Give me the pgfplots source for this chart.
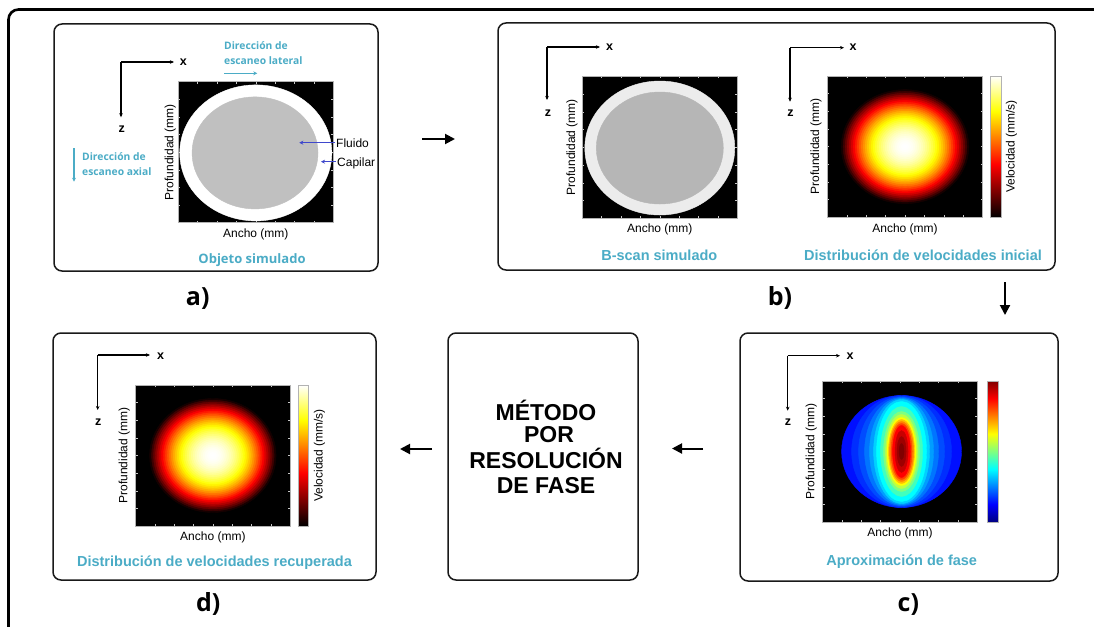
\documentclass[border=0pt]{standalone}
\usepackage{fontspec}
\setmainfont{Liberation Sans}
\newfontfamily\osans{Open Sans}
\usepackage{pgfplots}
\pgfplotsset{compat=1.18}
\usepackage{pgfplotstable}
\usetikzlibrary{arrows.meta}
\definecolor{tealc}{RGB}{75,172,198}
\definecolor{arrblue}{RGB}{63,72,204}
\definecolor{boxc}{RGB}{25,25,25}
\definecolor{fluida}{RGB}{192,192,192}
\definecolor{ringb}{RGB}{236,236,236}
\definecolor{fluidb}{RGB}{182,182,182}
\newcommand\lbl{\fontsize{12}{14}\selectfont}
\newcommand\ttl{\fontsize{14.5}{17}\selectfont\bfseries}
\newcommand\axl{\fontsize{12.5}{14}\selectfont\bfseries}
\newcommand\dirf{\osans\fontsize{10.3}{15}\selectfont\bfseries}
\newcommand\panelf{\osans\fontsize{25}{28}\selectfont\bfseries}
\newcommand\midf{\fontsize{23}{25}\selectfont\bfseries}

% Poiseuille-like velocity profile: r = disc radius (pt), v = normalised velocity
\pgfplotstableread{
x y r v
0 0 57.00 0.0310
0 0 55.22 0.0916
0 0 53.44 0.1501
0 0 51.66 0.2068
0 0 49.88 0.2615
0 0 48.09 0.3142
0 0 46.31 0.3650
0 0 44.53 0.4138
0 0 42.75 0.4607
0 0 40.97 0.5056
0 0 39.19 0.5486
0 0 37.41 0.5896
0 0 35.63 0.6287
0 0 33.84 0.6658
0 0 32.06 0.7009
0 0 30.28 0.7341
0 0 28.50 0.7654
0 0 26.72 0.7947
0 0 24.94 0.8220
0 0 23.16 0.8474
0 0 21.38 0.8709
0 0 19.59 0.8923
0 0 17.81 0.9119
0 0 16.03 0.9294
0 0 14.25 0.9451
0 0 12.47 0.9587
0 0 10.69 0.9705
0 0 8.91 0.9802
0 0 7.13 0.9880
0 0 5.34 0.9939
0 0 3.56 0.9978
0 0 1.78 0.9998
}\hottable

% phase approximation: r = half height (pt), sx = width/height ratio, v = level
\pgfplotstableread{
x y r sx v
0.02 0 56 1.071 0.14
0.02 0 56 0.893 0.17
0.02 0 55 0.782 0.20
0.02 0 54 0.685 0.24
0.02 0 53 0.604 0.28
0.02 0 52 0.538 0.33
0.02 0 50 0.500 0.375
0.02 0 45 0.467 0.44
0.02 0 40 0.450 0.50
0.02 0 37 0.432 0.56
0.02 0 34 0.426 0.625
0.02 0 32 0.406 0.69
0.02 0 30 0.400 0.75
0.02 0 28 0.375 0.81
0.02 0 26 0.346 0.875
0.02 0 21 0.310 0.93
0.02 0 15 0.300 0.97
0.02 0 8 0.3125 1.00
}\jettable

\pgfplotsset{
  img/.style={
    scale only axis, anchor=south west,
    xmin=-1, xmax=1, ymin=-1, ymax=1,
    axis on top,
    axis background/.style={fill=black},
    axis line style={draw=gray!60, line width=0.5pt},
    xtick={-0.75,-0.5,-0.25,0,0.25,0.5,0.75},
    ytick={-0.75,-0.5,-0.25,0,0.25,0.5,0.75},
    xticklabels={}, yticklabels={},
    tick align=inside, major tick length=2pt,
    tick style={draw=gray!45, line width=0.4pt},
    xlabel={Ancho (mm)}, ylabel={Profundidad (mm)},
    label style={font=\lbl, inner sep=0pt},
  },
  xlab/.style={xlabel style={at={(axis description cs:0.5,0)}, anchor=base, yshift=-#1}},
  ylab/.style={ylabel style={at={(axis description cs:#1,0.5)}, anchor=base}},
  hotmap/.style={colormap={hotm}{rgb255(0cm)=(0,0,0); rgb255(3cm)=(255,0,0); rgb255(6cm)=(255,255,0); rgb255(8cm)=(255,255,255)}},
  jetmap/.style={colormap={jetm}{rgb255(0cm)=(0,0,128); rgb255(1cm)=(0,0,255); rgb255(3cm)=(0,255,255); rgb255(5cm)=(255,255,0); rgb255(7cm)=(255,0,0); rgb255(8cm)=(128,0,0)}},
}

\begin{document}
\begin{tikzpicture}[x=1pt,y=1pt]
\path[use as bounding box] (0,0) rectangle (1094,-626);

% outer frame
\draw[black, line width=2.6pt, rounded corners=10pt] (1110,-9.5) -- (8.5,-9.5) -- (8.5,-650);

% boxes
\draw[boxc, line width=1.5pt, rounded corners=8pt, fill=white] (54,-24) rectangle (378,-271);
\draw[boxc, line width=1.5pt, rounded corners=8pt, fill=white] (498,-23) rectangle (1055,-270);
\draw[boxc, line width=1.5pt, rounded corners=8pt, fill=white] (740,-333) rectangle (1058,-581);
\draw[boxc, line width=1.5pt, rounded corners=8pt, fill=white] (53,-333) rectangle (376,-580);
\draw[boxc, line width=1.5pt, rounded corners=8pt, fill=white] (448,-333) rectangle (638,-580);

% flow arrows
\draw[black, line width=2pt, -{Triangle[length=10pt,width=10pt]}] (422,-139) -- (455,-139);
\draw[black, line width=2pt, -{Triangle[length=10pt,width=10pt]}] (1005,-282) -- (1005,-315);
\draw[black, line width=2pt, -{Triangle[length=10pt,width=10pt]}] (703,-448.5) -- (672,-448.5);
\draw[black, line width=2pt, -{Triangle[length=10pt,width=10pt]}] (432,-449) -- (400,-449);

% small x-z axes
\foreach \cx/\cy/\ex/\ez/\lx/\lxb/\lz/\lzb in {121/62/174/117.3/183.3/66/121.7/132.5, 547/47/600/100/609.5/51/548/116.5, 790/47.7/844/101.7/853/51/790.5/116.5, 787.7/355.7/840/410.7/850/359.5/788/425.5, 97.7/355/150/410/160.7/359.5/98.3/425.5}{
  \draw[black, line width=1.1pt, -{Stealth[length=4pt,width=3.5pt]}] (\cx,-\cy) -- (\ex,-\cy);
  \draw[black, line width=1.1pt, -{Stealth[length=4pt,width=3.5pt]}] (\cx,-\cy) -- (\cx,-\ez);
  \node[anchor=base, font=\axl, inner sep=0pt] at (\lx,-\lxb) {x};
  \node[anchor=base, font=\axl, inner sep=0pt] at (\lz,-\lzb) {z};
}

% ---- panel a
\begin{axis}[img, at={(178.3pt,-222.7pt)}, width=155pt, height=141pt, xlab=14.6pt, ylab=-0.0323]
\addplot[only marks, mark=*, mark size=68pt, mark options={xscale=1.118, fill=white, draw=white}] coordinates {(0,-0.01)};
\addplot[only marks, mark=*, mark size=56pt, mark options={xscale=1.125, fill=fluida, draw=fluida}] coordinates {(-0.01,-0.01)};
\end{axis}
\node[anchor=base west, font=\dirf, text=tealc, inner sep=0pt] at (224,-49) {Dirección de};
\node[anchor=base west, font=\dirf, text=tealc, inner sep=0pt] at (224,-64) {escaneo lateral};
\draw[tealc, line width=1.2pt, -{Stealth[length=4pt,width=4pt]}] (224,-73.3) -- (257.3,-73.3);
\node[anchor=base west, font=\dirf, text=tealc, inner sep=0pt] at (82,-160) {Dirección de};
\node[anchor=base west, font=\dirf, text=tealc, inner sep=0pt] at (82,-175) {escaneo axial};
\draw[tealc, line width=1.2pt, -{Stealth[length=4pt,width=4pt]}] (74,-148.3) -- (74,-181.7);
\draw[arrblue, line width=1pt, -{Stealth[length=4pt,width=4pt]}] (335,-142.7) -- (299.3,-142.7);
\draw[arrblue, line width=1pt, -{Stealth[length=4pt,width=4pt]}] (335.7,-161.7) -- (321,-161.7);
\node[anchor=base west, font=\lbl, inner sep=0pt] at (336,-147) {Fluido};
\node[anchor=base west, font=\lbl, inner sep=0pt] at (337,-166) {Capilar};
\node[anchor=base, font=\osans\fontsize{13}{15}\selectfont\bfseries, text=tealc, inner sep=0pt] at (252,-263) {Objeto simulado};
\node[anchor=base, font=\panelf, inner sep=0pt] at (197.7,-305) {a)};

% ---- panel b
\begin{axis}[img, at={(582.3pt,-218.3pt)}, width=155pt, height=142pt, xlab=14pt, ylab=-0.047]
\addplot[only marks, mark=*, mark size=67pt, mark options={xscale=1.119, fill=ringb, draw=ringb}] coordinates {(0,-0.01)};
\addplot[only marks, mark=*, mark size=56pt, mark options={xscale=1.134, fill=fluidb, draw=fluidb}] coordinates {(0,-0.01)};
\end{axis}
\begin{axis}[img, at={(827.3pt,-217.3pt)}, width=155.4pt, height=141.3pt, xlab=15pt, ylab=-0.0534,
  hotmap, point meta min=0, point meta max=1,
  colorbar, colorbar shift/.style={xshift=7.3pt},
  colorbar style={scale only axis, at={(parent axis.north east)}, anchor=north west, width=11.7pt, ytick=\empty,
    axis line style={draw=gray!60, line width=0.5pt},
    ylabel={Velocidad (mm/s)}, ylabel style={at={(axis description cs:2.10,0.5)}, anchor=base, font=\lbl, inner sep=0pt}}]
\addplot[scatter, only marks, mark=*, scatter src=explicit,
  scatter/use mapped color={draw=mapped color, fill=mapped color},
  visualization depends on={\thisrow{r} \as \myrr},
  scatter/@pre marker code/.append style={/tikz/mark size=\myrr},
  mark options={xscale=1.12}] table[x=x, y=y, meta=v] {\hottable};
\end{axis}
\node[anchor=base, font=\ttl, text=tealc, inner sep=0pt] at (659.3,-260.7) {B-scan simulado};
\node[anchor=base, font=\ttl, text=tealc, inner sep=0pt] at (923,-260.7) {Distribución de velocidades inicial};
\node[anchor=base, font=\panelf, inner sep=0pt] at (780,-305) {b)};

% ---- panel c
\begin{axis}[img, at={(822.7pt,-522pt)}, width=154.6pt, height=141pt, xlab=14pt, ylab=-0.0543,
  jetmap, point meta min=0, point meta max=1,
  colorbar, colorbar shift/.style={xshift=10pt},
  colorbar style={scale only axis, at={(parent axis.north east)}, anchor=north west, width=11pt, ytick=\empty,
    axis line style={draw=gray!60, line width=0.5pt}}]
\addplot[scatter, only marks, mark=*, scatter src=explicit,
  scatter/use mapped color={draw=mapped color, fill=mapped color},
  visualization depends on={\thisrow{r} \as \myrr},
  visualization depends on={\thisrow{sx} \as \mysx},
  scatter/@pre marker code/.append style={/tikz/mark size=\myrr, /tikz/xscale=\mysx}] table[x=x, y=y, meta=v] {\jettable};
\end{axis}
\node[anchor=base, font=\ttl, text=tealc, inner sep=0pt] at (901.7,-565.7) {Aproximación de fase};
\node[anchor=base, font=\panelf, inner sep=0pt] at (908.3,-611.7) {c)};

% ---- middle box
\node[anchor=base, font=\midf, inner sep=0pt] at (546,-420) {MÉTODO};
\node[anchor=base, font=\midf, inner sep=0pt] at (549,-442.3) {POR};
\node[anchor=base, font=\midf, inner sep=0pt] at (546,-468.3) {RESOLUCIÓN};
\node[anchor=base, font=\midf, inner sep=0pt] at (546,-493.3) {DE FASE};

% ---- panel d
\begin{axis}[img, at={(135.7pt,-526pt)}, width=154.3pt, height=141pt, xlab=14.5pt, ylab=-0.0545,
  hotmap, point meta min=0, point meta max=1,
  colorbar, colorbar shift/.style={xshift=8.3pt},
  colorbar style={scale only axis, at={(parent axis.north east)}, anchor=north west, width=10.4pt, ytick=\empty,
    axis line style={draw=gray!60, line width=0.5pt},
    ylabel={Velocidad (mm/s)}, ylabel style={at={(axis description cs:2.33,0.5)}, anchor=base, font=\lbl, inner sep=0pt}}]
\addplot[scatter, only marks, mark=*, scatter src=explicit,
  scatter/use mapped color={draw=mapped color, fill=mapped color},
  visualization depends on={\thisrow{r} \as \myrr},
  scatter/@pre marker code/.append style={/tikz/mark size=\myrr},
  mark options={xscale=1.11}] table[x=x, y=y, meta=v] {\hottable};
\end{axis}
\node[anchor=base, font=\ttl, text=tealc, inner sep=0pt] at (214.5,-566) {Distribución de velocidades recuperada};
\node[anchor=base, font=\panelf, inner sep=0pt] at (208.3,-611.7) {d)};
\end{tikzpicture}
\end{document}
